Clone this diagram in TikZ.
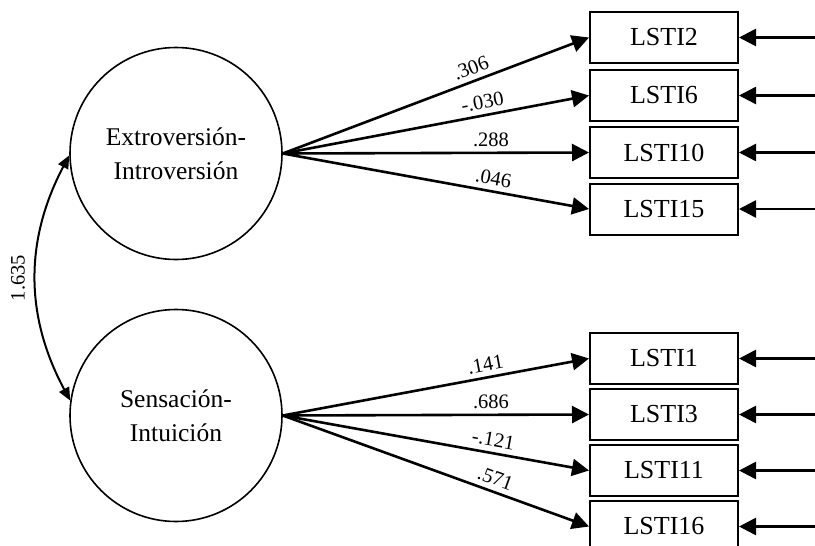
\documentclass[tikz,border=0pt]{standalone}
\usepackage{fontspec}
\setmainfont{Liberation Serif}
\usetikzlibrary{arrows.meta}

\tikzset{
  latent/.style={circle,draw,line width=1.6pt,minimum size=212pt,inner sep=0pt,
    align=center,font=\fontsize{25.5}{34}\selectfont},
  observed/.style={rectangle,draw,line width=2pt,minimum width=148pt,
    minimum height=51pt,inner sep=0pt,font=\fontsize{26}{30}\selectfont},
  load/.style={line width=2.6pt,-{Triangle[length=17pt,width=17pt]}},
  cov/.style={line width=2pt,{Triangle[length=13pt,width=11pt]}-{Triangle[length=13pt,width=11pt]}},
  wt/.style={font=\fontsize{20.5}{22}\selectfont,sloped,above=4pt,inner sep=1pt}
}

\begin{document}
\begin{tikzpicture}[x=1pt,y=-1pt]
\useasboundingbox (0,0) rectangle (815,546);

% latent factors
\node[latent] (EI) at (176,153.5) {Extroversión-\\Introversión};
\node[latent] (SI) at (176,415.5) {Sensación-\\Intuición};

% items of the first factor
\foreach \n/\y/\w/\p in {2/37.5/.306/0.63, 6/95.5/-.030/0.66, 10/152.5/.288/0.68, 15/209/.046/0.68}{
  \node[observed] (lsti\n) at (664,\y) {LSTI\n};
  \coordinate (err\n) at (815,\y);
  \draw[load] (EI.east) -- node[wt,pos=\p]{\w} (lsti\n.west);
  \draw[load] (err\n) -- (lsti\n.east);
}

% items of the second factor
\foreach \n/\y/\w/\p in {1/358.5/.141/0.67, 3/414.5/.686/0.68, 11/470.5/-.121/0.68, 16/526.5/.571/0.68}{
  \node[observed] (lsti\n) at (664,\y) {LSTI\n};
  \coordinate (err\n) at (815,\y);
  \draw[load] (SI.east) -- node[wt,pos=\p]{\w} (lsti\n.west);
  \draw[load] (err\n) -- (lsti\n.east);
}

% covariance
\draw[cov] (EI.181) to[bend right=28]
  node[midway,rotate=90,anchor=south,inner sep=10pt,font=\fontsize{20.5}{22}\selectfont]{1.635} (SI.172);
\end{tikzpicture}
\end{document}
